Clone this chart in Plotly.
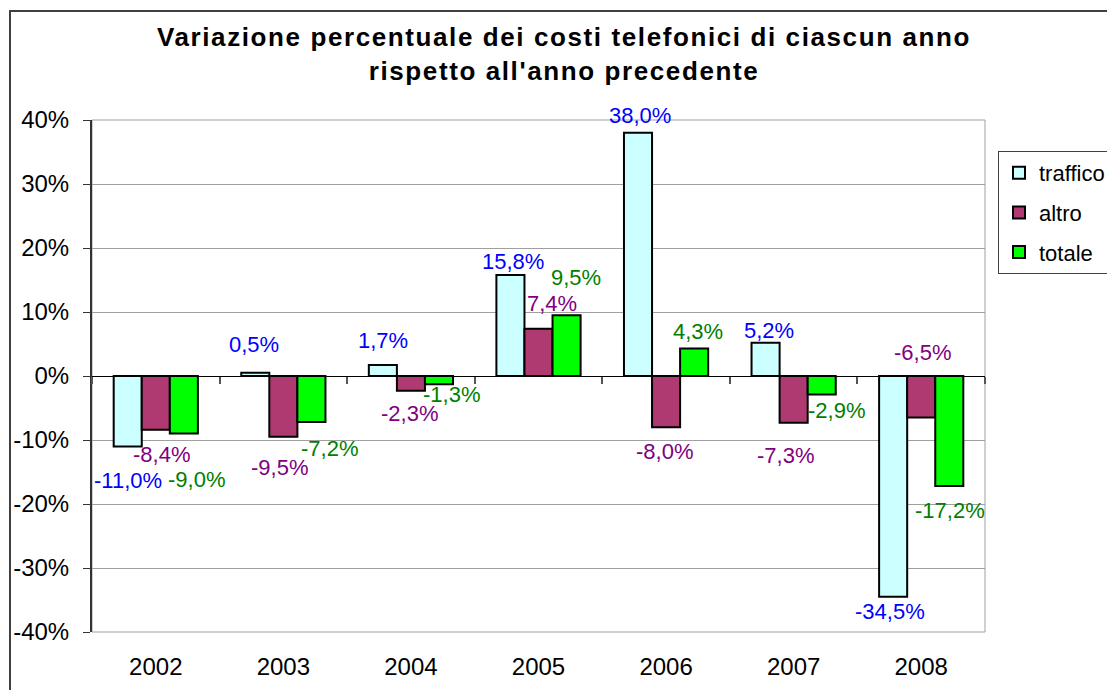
import plotly.graph_objects as go

years = ["2002", "2003", "2004", "2005", "2006", "2007", "2008"]
series_names = ["traffico", "altro", "totale"]
traffico = [-11.0, 0.5, 1.7, 15.8, 38.0, 5.2, -34.5]
altro = [-8.4, -9.5, -2.3, 7.4, -8.0, -7.3, -6.5]
totale = [-9.0, -7.2, -1.3, 9.5, 4.3, -2.9, -17.2]
y_tickvals = [-40, -30, -20, -10, 0, 10, 20, 30, 40]
y_ticktext = ["-40%", "-30%", "-20%", "-10%", "0%", "10%", "20%", "30%", "40%"]

# label placement offsets in pixels (dx right, dy down), as dragged in the original
label_dx = {
    "traffico": [0, -1, 0.5, 2.5, 2.3, 3.4, -2.9],
    "altro": [5.7, -3.4, -1, 13.4, -1.5, -7.8, 0.9],
    "totale": [12.2, 18, 13, 9, 4, 14.4, 0.9],
}
label_dy = {
    "traffico": [33.6, -28, -25, -13, -17, -12.7, 15],
    "altro": [25, 31, 23, -25.6, 24.5, 33, -65],
    "totale": [46, 26, 10, -38, -17, 16, 24],
}

fill_colors = {"traffico": "#CCFFFF", "altro": "#AF3A72", "totale": "#00FF00"}
label_colors = {"traffico": "#0000FF", "altro": "#800080", "totale": "#008000"}
FONT = "Liberation Sans, Arial, Helvetica, sans-serif"
BARGAP = 0.34

series = {"traffico": traffico, "altro": altro, "totale": totale}

fig = go.Figure()
for name in series_names:
    fig.add_trace(go.Bar(
        x=years, y=series[name], name=name, legendgroup=name,
        marker=dict(color=fill_colors[name], line=dict(color="#000000", width=2)),
        hoverinfo="skip",
    ))

# dummy trace for the category axis drawn at 0%
fig.add_trace(go.Scatter(x=years, y=[None] * len(years), xaxis="x2", showlegend=False,
                         hoverinfo="skip", mode="markers"))

def fmt(v):
    return f"{v:.1f}".replace(".", ",") + "%"

bar_w = (1 - BARGAP) / 3
annotations = []
for k, name in enumerate(series_names):
    for i, v in enumerate(series[name]):
        annotations.append(dict(
            x=i + (k - 1) * bar_w, y=v, xref="x", yref="y",
            text=fmt(v), showarrow=False,
            xanchor="center", yanchor="middle",
            xshift=label_dx[name][i], yshift=-label_dy[name][i],
            font=dict(family=FONT, size=22, color=label_colors[name]),
        ))

title_style = "letter-spacing:1.6px"
title_text = (f"<span style='{title_style}'>Variazione percentuale dei costi telefonici di ciascun anno</span>"
              f"<br><span style='{title_style}'>rispetto all'anno precedente</span>")

fig.update_layout(
    width=1107, height=690,
    margin=dict(l=92, r=122, t=120, b=58, autoexpand=False),
    paper_bgcolor="white", plot_bgcolor="white",
    barmode="group", bargap=BARGAP, bargroupgap=0,
    title=dict(text=title_text, x=564 / 1107, xanchor="center", xref="container",
               y=1 - 46 / 690, yanchor="top", yref="container",
               font=dict(family=FONT, size=26, color="black", weight="bold")),
    font=dict(family=FONT, color="black"),
    showlegend=True,
    legend=dict(x=(998 - 92) / 893, y=(632 - 151) / 512, xanchor="left", yanchor="top",
                bgcolor="white", bordercolor="#404040", borderwidth=1,
                font=dict(family=FONT, size=22, color="black"),
                tracegroupgap=8, itemsizing="constant"),
    xaxis=dict(type="category", categoryarray=years, range=[-0.5, 6.5],
               showgrid=False, showline=False, ticks="", zeroline=False,
               tickfont=dict(family=FONT, size=24, color="black"),
               ticklabelstandoff=18, automargin=False),
    xaxis2=dict(type="category", categoryarray=years, range=[-0.5, 6.5],
                overlaying="x", anchor="free", position=0.5,
                showline=True, linecolor="#000000", linewidth=1,
                ticks="outside", ticklen=7, tickcolor="#555555", tickwidth=1.5,
                tickson="boundaries", showticklabels=False, showgrid=False),
    yaxis=dict(range=[-40, 40], tickvals=y_tickvals, ticktext=y_ticktext,
               showgrid=True, gridcolor="#A0A0A0", gridwidth=1, zeroline=False,
               showline=True, linecolor="#333333", linewidth=2,
               ticks="outside", ticklen=7, tickcolor="#333333",
               tickfont=dict(family=FONT, size=24, color="black"),
               ticklabelstandoff=9, automargin=False),
    annotations=annotations,
    shapes=[
        dict(type="rect", xref="paper", yref="paper", x0=0, x1=1, y0=0, y1=1,
             line=dict(color="#A0A0A0", width=1), layer="below"),
        dict(type="rect", xref="paper", yref="paper",
             x0=(10 - 92) / 893, x1=1.3, y0=-0.3, y1=(632 - 11) / 512,
             line=dict(color="#404040", width=2), layer="below"),
    ],
)

fig.write_html("out.html", config={"displayModeBar": False},
               post_script="document.body.style.margin='0';document.body.style.overflow='hidden';")
